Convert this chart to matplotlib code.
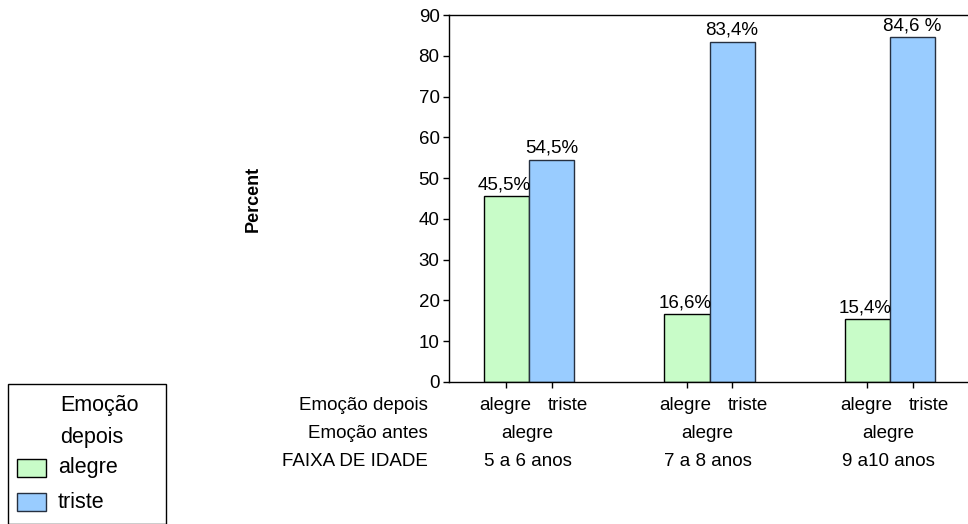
import matplotlib
matplotlib.use("Agg")
import matplotlib.pyplot as plt
from matplotlib.patches import Rectangle
import matplotlib.transforms as mtrans
import numpy as np

age_groups = ["5 a 6 anos", "7 a 8 anos", "9 a10 anos"]
emocao_antes = ["alegre", "alegre", "alegre"]
series_names = ["alegre", "triste"]
alegre_vals = [45.5, 16.6, 15.4]
triste_vals = [54.5, 83.4, 84.6]
alegre_labels = ["45,5%", "16,6%", "15,4%"]
triste_labels = ["54,5%", "83,4%", "84,6 %"]
yticks = [0, 10, 20, 30, 40, 50, 60, 70, 80, 90]

green = "#c8fcc8"
blue = "#99ccff"
blue_edge = "#263040"

plt.rcParams['font.family'] = ['Liberation Sans', 'DejaVu Sans']

W, H = 968, 524
fig = plt.figure(figsize=(W / 100, H / 100), dpi=100)

ax_left, ax_right, ax_top, ax_bot = 449, 985, 15, 382
ax = fig.add_axes([ax_left / W, 1 - ax_bot / H, (ax_right - ax_left) / W, (ax_bot - ax_top) / H])

x = np.arange(len(age_groups))
bw = 0.25
b1 = ax.bar(x - bw / 2, alegre_vals, bw, color=green, edgecolor="black", linewidth=1.0, zorder=2)
b2 = ax.bar(x + bw / 2, triste_vals, bw, color=blue, edgecolor=blue_edge, linewidth=1.0, zorder=2)

px_per_unit = 180.5
ax.set_xlim(-(529 - ax_left) / px_per_unit, (ax_right - 529) / px_per_unit)
ax.set_ylim(0, 90)
ax.set_yticks(yticks)
ax.tick_params(axis='y', labelsize=13.5, length=4.3, width=1, pad=2.5, colors="black")

xt = np.sort(np.concatenate([x - bw / 2, x + bw / 2]))
ax.set_xticks(xt)
ax.set_xticklabels([""] * len(xt))
ax.tick_params(axis='x', length=4.3, width=1, colors="black")

for sp in ["left", "bottom", "top"]:
    ax.spines[sp].set_linewidth(1.0)
    ax.spines[sp].set_color("black")
ax.spines["right"].set_visible(False)

for rect, lab in zip(b1, alegre_labels):
    ax.annotate(lab, (rect.get_x() + rect.get_width() / 2, rect.get_height()),
                xytext=(-1.5, 5), textcoords="offset points", ha="center", va="baseline", fontsize=13.5)
for rect, lab in zip(b2, triste_labels):
    ax.annotate(lab, (rect.get_x() + rect.get_width() / 2, rect.get_height()),
                xytext=(0, 5), textcoords="offset points", ha="center", va="baseline", fontsize=13.5)

ax.set_ylabel("Percent", fontsize=13, fontweight="bold")
ax.yaxis.label.set_va("center")
ax.yaxis.set_label_coords((253 - ax_left) / (ax_right - ax_left), 0.5)

# category rows below the axis
trans = mtrans.blended_transform_factory(ax.transData, fig.transFigure)
row1 = 1 - 406 / H
for i in range(len(age_groups)):
    ax.annotate(series_names[0], (x[i] - bw / 2, row1), xycoords=trans, xytext=(-1, 0),
                textcoords="offset points", ha="center", va="center", fontsize=13.5, annotation_clip=False)
    ax.annotate(series_names[1], (x[i] + bw / 2, row1), xycoords=trans, xytext=(11.5, 0),
                textcoords="offset points", ha="center", va="center", fontsize=13.5, annotation_clip=False)
    ax.annotate(emocao_antes[i], (x[i], 1 - 433 / H), xycoords=trans, xytext=(-1.5, 0),
                textcoords="offset points", ha="center", va="center", fontsize=13.5, annotation_clip=False)
    ax.annotate(age_groups[i], (x[i], 1 - 461 / H), xycoords=trans, xytext=(-1, 0),
                textcoords="offset points", ha="center", va="center", fontsize=13.5, annotation_clip=False)
for txt, yy in [("Emoção depois", 406), ("Emoção antes", 433), ("FAIXA DE IDADE", 461)]:
    fig.text(428 / W, 1 - yy / H, txt, ha="right", va="center", fontsize=13.5)

# legend (drawn manually)
fig.patches.append(Rectangle((8 / W, 0), (166 - 8) / W, 1 - 384 / H, transform=fig.transFigure,
                             fill=False, edgecolor="black", linewidth=1.0))
fig.text(60 / W, 1 - 405 / H, "Emoção", ha="left", va="center", fontsize=15.5)
fig.text(60 / W, 1 - 438 / H, "depois", ha="left", va="center", fontsize=15.5)
for (name, col, ec, y0) in [(series_names[0], green, "black", 459), (series_names[1], blue, blue_edge, 493)]:
    fig.patches.append(Rectangle((17 / W, 1 - (y0 + 18) / H), 29 / W, 18 / H, transform=fig.transFigure,
                                 facecolor=col, edgecolor=ec, linewidth=1.0))
    fig.text(58 / W, 1 - (y0 + 9) / H, name, ha="left", va="center", fontsize=15.5)

fig.savefig("out.png", dpi=100)
